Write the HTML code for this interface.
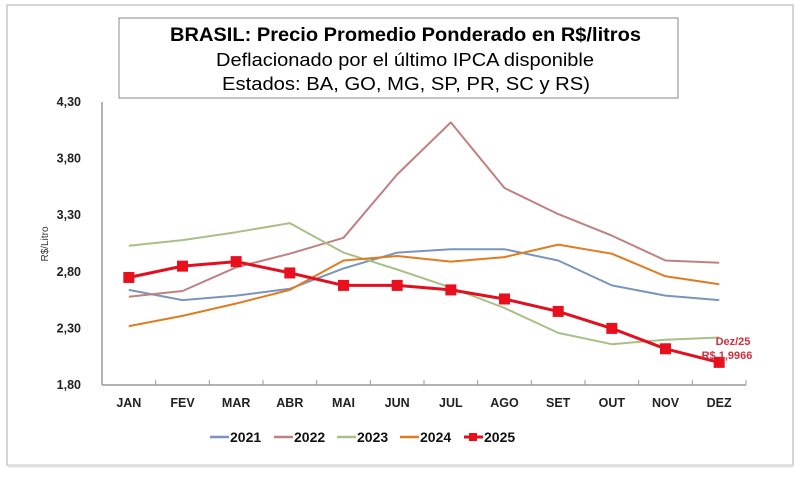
<!DOCTYPE html>
<html><head><meta charset="utf-8">
<style>
html,body{margin:0;padding:0;background:#fff;}
body{width:800px;height:474px;overflow:hidden;font-family:"Liberation Sans",sans-serif;}
</style></head>
<body>
<svg id="chart" width="800" height="474" viewBox="0 0 800 474" xmlns="http://www.w3.org/2000/svg">
  <rect x="7" y="5" width="786" height="460" fill="#fff" stroke="#c8c8c8" stroke-width="1.5"/>
  <line x1="8" y1="466" x2="793" y2="466" stroke="#e0e0e0" stroke-width="3"/>
  <g>
    <rect x="119" y="18" width="559" height="80" fill="#fff" stroke="#888" stroke-width="1"/>
    <text x="170" y="41" textLength="471" lengthAdjust="spacingAndGlyphs" font-size="19" font-weight="bold" fill="#000">BRASIL: Precio Promedio Ponderado en R$/litros</text>
    <text x="216" y="66" textLength="378" lengthAdjust="spacingAndGlyphs" font-size="18.5" fill="#000">Deflacionado por el último IPCA disponible</text>
    <text x="222" y="90" textLength="368" lengthAdjust="spacingAndGlyphs" font-size="18.5" fill="#000">Estados: BA, GO, MG, SP, PR, SC y RS)</text>
  </g>
  <text x="0" y="0" transform="translate(48,244) rotate(-90)" text-anchor="middle" font-size="10" fill="#333">R$/Litro</text>
  <g id="axes"></g>
  <g id="series"></g>
  <text x="733" y="345" text-anchor="middle" font-size="11" font-weight="bold" fill="#d03040">Dez/25</text>
  <text x="727" y="359" text-anchor="middle" font-size="11" font-weight="bold" fill="#d03040">R$ 1,9966</text>
  <g id="legend"></g>
</svg>
<script>
const months = ["JAN","FEV","MAR","ABR","MAI","JUN","JUL","AGO","SET","OUT","NOV","DEZ"];
const yTicks = [1.80,2.30,2.80,3.30,3.80,4.30];
const yTickLabels = ["1,80","2,30","2,80","3,30","3,80","4,30"];
const seriesNames = ["2021","2022","2023","2024","2025"];
const s2021 = [2.64,2.55,2.59,2.65,2.83,2.97,3.00,3.00,2.90,2.68,2.59,2.55];
const s2022 = [2.58,2.63,2.84,2.96,3.10,3.66,4.12,3.54,3.31,3.12,2.90,2.88];
const s2023 = [3.03,3.08,3.15,3.23,2.97,2.82,2.66,2.48,2.26,2.16,2.20,2.22];
const s2024 = [2.32,2.41,2.52,2.64,2.90,2.94,2.89,2.93,3.04,2.96,2.76,2.69];
const s2025 = [2.75,2.85,2.89,2.79,2.68,2.68,2.64,2.56,2.45,2.30,2.12,2.00];
const seriesColors = ["#7a95bd","#c08080","#a8c088","#e07b20","#e01020"];

const NS="http://www.w3.org/2000/svg";
const x0=102,x1=746,yTop=102,yBot=385,yMin=1.8,yMax=4.3;
const step=(x1-x0)/months.length;
function xS(i){return x0+step*(i+0.5);}
function yS(v){return yBot-(v-yMin)/(yMax-yMin)*(yBot-yTop);}
function mk(tag,attrs,parent){const e=document.createElementNS(NS,tag);for(const k in attrs)e.setAttribute(k,attrs[k]);parent.appendChild(e);return e;}

const axes=document.getElementById('axes');
const ya=mk('line',{x1:x0,y1:yTop,x2:x0,y2:yBot,stroke:'#999','stroke-width':1.5},axes);


const xa=mk('line',{x1:x0,y1:yBot,x2:x1,y2:yBot,stroke:'#999','stroke-width':1.5},axes);


yTicks.forEach((t,i)=>{
  const tx=mk('text',{x:81,y:yS(t)+4,'text-anchor':'end','font-size':12.5,'font-weight':'bold',fill:'#222'},axes);
  tx.textContent=yTickLabels[i];
  
  
});
for(let i=0;i<=months.length;i++){
  const xx=x0+step*i;
  mk('line',{x1:xx,y1:yBot,x2:xx,y2:yBot-5,stroke:'#999','stroke-width':1},axes);
}
months.forEach((m,i)=>{
  const tx=mk('text',{x:xS(i),y:407,'text-anchor':'middle','font-size':12.5,'font-weight':'bold',fill:'#222'},axes);
  tx.textContent=m;
  
  
});

const allSeries=[s2021,s2022,s2023,s2024,s2025];
const sg=document.getElementById('series');
allSeries.forEach((data,k)=>{
  const pts=data.map((v,i)=>xS(i).toFixed(1)+','+yS(v).toFixed(1)).join(' ');
  const pl=mk('polyline',{points:pts,fill:'none',stroke:seriesColors[k],'stroke-width':k===4?3:2,'stroke-linejoin':'round'},sg);
  
  
  if(k===4){
    data.forEach((v,i)=>{
      const r=mk('rect',{x:xS(i)-5.5,y:yS(v)-5.5,width:11,height:11,fill:'#e8101c'},sg);
      
      
    });
  }
});

const lg=document.getElementById('legend');
const lx=[210,274,337,400,464];
seriesNames.forEach((n,k)=>{
  const g=mk('g',{},lg);
  
  
  mk('line',{x1:lx[k],y1:437,x2:lx[k]+19,y2:437,stroke:seriesColors[k],'stroke-width':k===4?3:2.5},g);
  if(k===4) mk('rect',{x:lx[k]+5,y:433,width:8,height:8,fill:'#e8101c'},g);
  const t=mk('text',{x:lx[k]+20,y:442,'font-size':14,'font-weight':'bold',fill:'#111'},g);
  t.textContent=n;
});
</script>
</body></html>
